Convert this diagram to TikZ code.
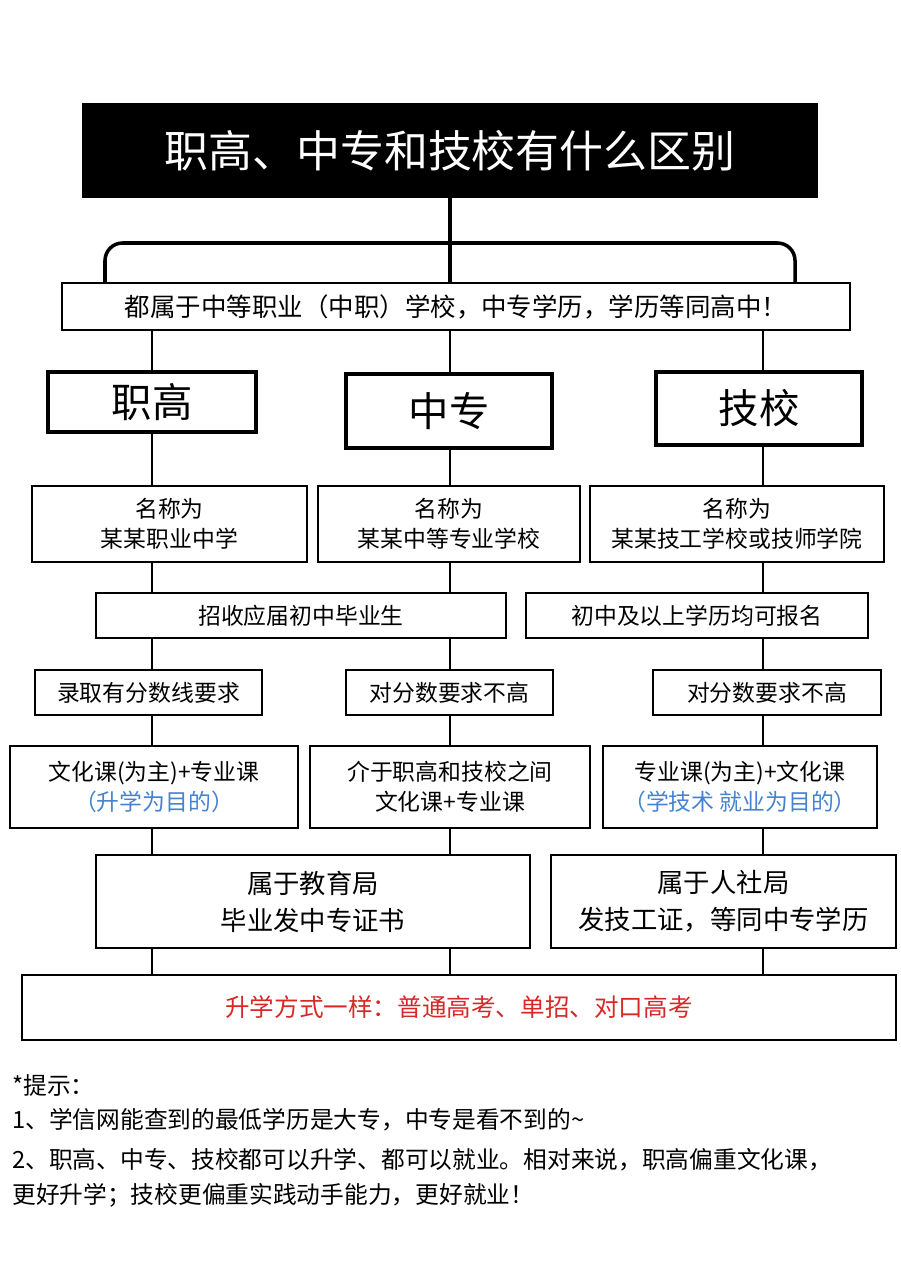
\documentclass[tikz,border=0pt]{standalone}
\usepackage{fontspec}
\setmainfont{Noto Sans CJK SC}
\definecolor{tipblue}{RGB}{70,130,205}
\definecolor{tipred}{RGB}{215,40,40}
\tikzset{
  box/.style={draw, line width=0.9pt, inner sep=0pt, align=center, font=\fontsize{13}{17}\selectfont},
  head/.style={draw, line width=1.8pt, inner sep=0pt, font=\fontsize{23}{27}\selectfont},
  link/.style={line width=0.9pt},
  note/.style={anchor=west, inner sep=0pt, font=\fontsize{13.5}{16}\selectfont}
}
\begin{document}
\begin{tikzpicture}[x=0.02cm, y=-0.02cm]
\useasboundingbox (0,0) rectangle (900,1280);

\node[fill=black, text=white, inner sep=0pt, minimum width=14.72cm, minimum height=1.9cm,
  font=\fontsize{25}{30}\selectfont] (title) at (450,150.5) {职高、中专和技校有什么区别};
\node[box, minimum width=15.76cm, minimum height=0.94cm, font=\fontsize{14.5}{17}\selectfont] (all) at (456,306.5)
  {都属于中等职业（中职）学校，中专学历，学历等同高中！};

% bracket
\draw[line width=2pt] (title.south) -- (all.north -| title.south);
\draw[line width=2pt, rounded corners=10] (all.north -| 105,0) |- (450,243) -| (all.north -| 795,0);

% columns
\coordinate (c1) at (152,0);
\coordinate (c2) at (450,0);
\coordinate (c3) at (763,0);

\node[head, minimum width=4.16cm, minimum height=1.2cm] (h1) at (152,402) {职高};
\node[head, minimum width=4.12cm, minimum height=1.48cm] (h2) at (449,411) {中专};
\node[head, minimum width=4.12cm, minimum height=1.46cm] (h3) at (759,408.5) {技校};

\node[box, minimum width=5.5cm, minimum height=1.52cm] (n1) at (169.5,524) {名称为\\某某职业中学};
\node[box, minimum width=5.24cm, minimum height=1.52cm] (n2) at (449,524) {名称为\\某某中等专业学校};
\node[box, minimum width=5.88cm, minimum height=1.52cm] (n3) at (737,524) {名称为\\某某技工学校或技师学院};

\node[box, minimum width=8.2cm, minimum height=0.9cm] (z1) at (301,615.5) {招收应届初中毕业生};
\node[box, minimum width=6.84cm, minimum height=0.9cm] (z2) at (697,615.5) {初中及以上学历均可报名};

\node[box, minimum width=4.54cm, minimum height=0.9cm] (l1) at (148.5,692.5) {录取有分数线要求};
\node[box, minimum width=4.14cm, minimum height=0.9cm] (l2) at (449.5,692.5) {对分数要求不高};
\node[box, minimum width=4.56cm, minimum height=0.9cm] (l3) at (767,692.5) {对分数要求不高};

\node[box, minimum width=5.76cm, minimum height=1.64cm] (w1) at (154,787)
  {文化课(为主)+专业课\\\textcolor{tipblue}{（升学为目的）}};
\node[box, minimum width=5.6cm, minimum height=1.64cm] (w2) at (450,787)
  {介于职高和技校之间\\文化课+专业课};
\node[box, minimum width=5.48cm, minimum height=1.64cm] (w3) at (740,787)
  {专业课(为主)+文化课\\\textcolor{tipblue}{（学技术 就业为目的）}};

\node[box, minimum width=8.68cm, minimum height=1.86cm, font=\fontsize{15}{21}\selectfont] (s1) at (313,901.5)
  {属于教育局\\毕业发中专证书};
\node[box, minimum width=6.9cm, minimum height=1.86cm, font=\fontsize{15}{21}\selectfont] (s2) at (723.5,901.5)
  {属于人社局\\发技工证，等同中专学历};

\node[box, minimum width=17.48cm, minimum height=1.3cm, text=tipred, font=\fontsize{14}{17}\selectfont] (f) at (459,1007.5)
  {升学方式一样：普通高考、单招、对口高考};

% connectors
\foreach \a/\b in {all/h1, h1/n1, n1/z1, z1/l1, l1/w1, w1/s1, s1/f}
  \draw[link] (\a.south -| c1) -- (\b.north -| c1);
\foreach \a/\b in {all/h2, h2/n2, n2/z1, z1/l2, l2/w2, w2/s1, s1/f}
  \draw[link] (\a.south -| c2) -- (\b.north -| c2);
\foreach \a/\b in {all/h3, h3/n3, n3/z2, z2/l3, l3/w3, w3/s2, s2/f}
  \draw[link] (\a.south -| c3) -- (\b.north -| c3);

% notes
\node[note] (t0) at (12,1085) {*提示：};
\node[note] (t1) at (12,1120) {1、学信网能查到的最低学历是大专，中专是看不到的\textasciitilde};
\node[note] (t2) at (12,1160) {2、职高、中专、技校都可以升学、都可以就业。相对来说，职高偏重文化课，};
\node[note] (t3) at (12,1195) {更好升学；技校更偏重实践动手能力，更好就业！};
\end{tikzpicture}
\end{document}
